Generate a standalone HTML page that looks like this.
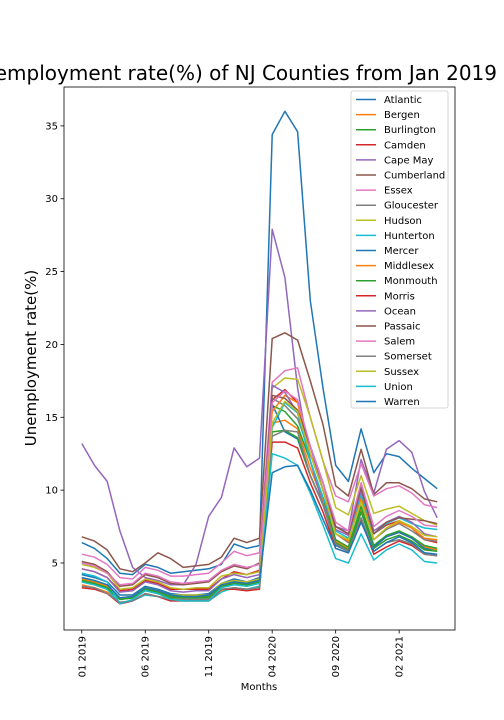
<!DOCTYPE html>
<html><head><meta charset="utf-8"><style>
body{margin:0;background:#fff;width:504px;height:720px;overflow:hidden}
svg{display:block;font-family:"DejaVu Sans","Liberation Sans",sans-serif}
</style></head><body>
<svg id="chart" width="504" height="720">
<text x="497" y="80" font-size="20" text-anchor="end">Unemployment rate(%) of NJ Counties from Jan 2019</text>
<text transform="translate(36,358) rotate(-90)" font-size="15" text-anchor="middle">Unemployment rate(%)</text>
<text x="259" y="690" font-size="10" text-anchor="middle">Months</text>
<g id="plot"></g>
</svg>
<script>
const counties = ["Atlantic","Bergen","Burlington","Camden","Cape May","Cumberland","Essex","Gloucester","Hudson","Hunterton","Mercer","Middlesex","Monmouth","Morris","Ocean","Passaic","Salem","Somerset","Sussex","Union","Warren"];
const xTickLabels = ["01 2019","06 2019","11 2019","04 2020","09 2020","02 2021"];
const xTickIndex = [0,5,10,15,20,25];
const yTicks = [5,10,15,20,25,30,35];
const atlantic   = [6.4,6.0,5.3,4.3,4.2,4.9,4.7,4.3,4.4,4.5,4.6,4.9,6.3,6.0,6.2,34.4,36.0,34.6,23.0,17.0,11.7,10.6,14.2,11.2,12.5,12.3,11.5,10.8,10.1];
const bergen     = [3.5,3.3,3.0,2.3,2.4,2.9,2.7,2.5,2.4,2.4,2.4,3.1,3.3,3.2,3.4,14.6,14.8,14.2,11.5,9.3,6.5,6.0,8.7,6.1,6.8,7.1,6.7,6.1,5.9];
const burlington = [3.7,3.5,3.2,2.5,2.6,3.1,2.9,2.6,2.6,2.6,2.6,3.3,3.6,3.5,3.7,15.8,15.4,14.4,12.0,9.5,6.6,6.1,8.9,6.2,6.9,7.2,6.8,6.2,6.0];
const camden     = [4.6,4.4,4.0,3.1,3.2,3.8,3.6,3.2,3.2,3.2,3.2,3.9,4.4,4.2,4.5,16.2,16.9,16.0,13.0,10.5,7.5,7.0,9.8,7.0,7.6,7.9,7.4,6.6,6.4];
const capeMay    = [13.2,11.7,10.6,7.2,4.7,4.0,3.8,3.5,3.5,4.9,8.2,9.5,12.9,11.6,12.2,27.9,24.6,17.0,12.0,9.0,7.5,7.2,12.1,9.8,12.8,13.4,12.6,9.9,8.1];
const cumberland = [6.8,6.5,5.9,4.6,4.4,5.0,5.7,5.3,4.7,4.8,4.9,5.4,6.7,6.4,6.7,20.4,20.8,20.3,17.5,14.5,10.3,9.6,12.8,9.7,10.5,10.5,10.1,9.4,9.2];
const essex      = [5.6,5.4,4.9,4.0,3.9,4.7,4.5,4.1,4.1,4.2,4.3,5.0,5.8,5.5,5.7,17.4,18.2,18.4,15.0,12.0,9.6,9.2,11.8,9.6,10.1,10.3,9.8,9.0,8.8];
const gloucester = [3.9,3.7,3.4,2.6,2.7,3.2,3.0,2.7,2.7,2.7,2.7,3.4,3.7,3.6,3.8,16.3,15.8,14.9,12.5,10.0,7.0,6.4,9.5,6.6,7.3,7.7,7.2,6.6,6.5];
const hudson     = [4.9,4.7,4.3,3.2,3.3,3.9,3.7,3.3,3.2,3.3,3.3,4.1,4.3,4.2,4.4,17.0,17.7,17.6,15.0,12.0,8.8,8.3,11.0,8.4,8.7,8.9,8.4,7.9,7.6];
const hunterton  = [3.7,3.5,3.2,2.2,2.4,2.8,2.7,2.4,2.4,2.4,2.4,3.0,3.3,3.2,3.4,14.3,16.0,15.3,12.0,9.5,7.2,6.7,9.8,7.0,7.7,8.1,7.7,7.4,7.3];
const mercer     = [4.2,4.0,3.7,2.8,2.8,3.4,3.2,2.9,2.8,2.8,2.9,3.6,3.9,3.7,4.0,15.9,14.0,13.5,11.0,9.0,6.2,5.8,8.5,6.1,6.8,7.1,6.7,6.0,5.8];
const middlesex  = [3.9,3.7,3.4,2.6,2.7,3.2,3.0,2.7,2.7,2.7,2.7,3.4,3.7,3.6,3.8,15.4,16.5,16.0,12.5,10.0,7.0,6.5,9.4,6.6,7.4,7.8,7.4,6.7,6.6];
const monmouth   = [3.8,3.6,3.3,2.5,2.6,3.2,3.0,2.7,2.6,2.6,2.7,3.4,3.6,3.5,3.7,14.0,14.1,13.6,11.0,9.0,6.4,5.9,8.5,6.0,6.6,6.9,6.5,5.9,5.8];
const morris     = [3.3,3.2,2.9,2.2,2.4,2.9,2.7,2.4,2.4,2.4,2.4,3.2,3.2,3.1,3.2,13.3,13.3,12.9,10.5,8.5,6.0,5.7,8.0,5.6,6.1,6.5,6.2,5.6,5.5];
const ocean      = [4.6,4.4,4.0,3.0,3.1,3.7,3.5,3.1,3.0,3.1,3.1,3.9,4.2,4.0,4.2,17.2,16.7,15.3,13.0,10.0,7.3,6.9,10.0,7.2,7.8,8.2,7.8,7.0,6.8];
const passaic    = [5.1,4.9,4.4,3.4,3.5,4.2,4.0,3.6,3.5,3.6,3.7,4.4,4.8,4.6,5.0,16.5,16.3,15.5,13.0,10.5,7.5,7.0,10.2,7.0,7.8,8.1,8.0,7.9,7.7];
const salem      = [5.0,4.8,4.3,3.5,3.6,4.3,4.1,3.7,3.6,3.7,3.8,4.5,4.9,4.7,4.9,16.0,16.8,16.2,13.0,10.5,7.8,7.2,10.5,7.5,8.2,8.6,8.2,7.6,7.5];
const somerset   = [3.4,3.3,2.9,2.3,2.4,2.9,2.7,2.5,2.5,2.5,2.5,3.2,3.3,3.2,3.3,13.7,14.1,14.0,11.0,9.0,6.3,5.8,8.1,5.8,6.4,6.6,6.3,5.6,5.5];
const sussex     = [4.0,3.8,3.5,2.6,2.7,3.3,3.1,2.8,2.8,2.8,2.8,3.6,3.8,3.7,3.9,14.6,16.1,15.4,12.5,10.0,7.0,6.6,9.2,6.6,7.4,7.9,7.5,6.9,6.8];
const union      = [4.3,4.1,3.7,2.2,2.5,3.1,2.9,2.5,2.4,2.4,2.4,3.3,3.5,3.4,3.6,12.5,12.2,11.7,9.8,7.6,5.3,5.0,7.0,5.2,5.9,6.3,5.9,5.1,5.0];
const warren     = [4.0,3.8,3.5,2.6,2.7,3.3,3.1,2.8,2.7,2.7,2.8,3.5,3.7,3.6,3.8,11.2,11.6,11.7,10.0,8.0,6.0,5.7,7.8,5.8,6.4,6.8,6.4,5.7,5.6];
const seriesList = [atlantic,bergen,burlington,camden,capeMay,cumberland,essex,gloucester,hudson,hunterton,mercer,middlesex,monmouth,morris,ocean,passaic,salem,somerset,sussex,union,warren];

const colors=["#1f77b4","#ff7f0e","#2ca02c","#d62728","#9467bd","#8c564b","#e377c2","#7f7f7f","#bcbd22","#17becf"];
const L=64,R=455,T=87,B=630;
const n=atlantic.length;
const xMin=-0.05*(n-1), xMax=(n-1)*1.05;
const yMin=0.4, yMax=37.67;
const xs=i=>L+(i-xMin)/(xMax-xMin)*(R-L);
const ys=v=>B-(v-yMin)/(yMax-yMin)*(B-T);
const NS="http://www.w3.org/2000/svg";
const g=document.getElementById('plot');
function mk(tag,attrs,parent){const e=document.createElementNS(NS,tag);for(const k in attrs)e.setAttribute(k,attrs[k]);(parent||g).appendChild(e);return e;}

seriesList.forEach((s,k)=>{
  const p=mk('polyline',{points:s.map((v,i)=>xs(i).toFixed(1)+','+ys(v).toFixed(1)).join(' '),fill:'none',stroke:colors[k%10],'stroke-width':1.5,'stroke-linejoin':'round'});
  
  
});
const frame=mk('rect',{x:L,y:T,width:R-L,height:B-T,fill:'none',stroke:'#000','stroke-width':0.8});



yTicks.forEach(v=>{
  const y=ys(v);
  const t=mk('line',{x1:L-3.5,x2:L,y1:y,y2:y,stroke:'#000','stroke-width':0.8});
  
  
  const lb=mk('text',{x:L-6,y:y+3.5,'font-size':10,'text-anchor':'end'});
  lb.textContent=v;
  
  
});
xTickIndex.forEach((idx,j)=>{
  const x=xs(idx);
  const t=mk('line',{x1:x,x2:x,y1:B,y2:B+3.5,stroke:'#000','stroke-width':0.8});
  
  
  const lb=mk('text',{transform:`translate(${x+3.5},${B+6}) rotate(-90)`,'font-size':10,'text-anchor':'end'});
  lb.textContent=xTickLabels[j];
  
  
});

const lg=mk('g',{});


mk('rect',{x:351,y:91,width:97,height:317,rx:2,fill:'#fff','fill-opacity':0.8,stroke:'#ccc','stroke-width':0.8},lg);
counties.forEach((c,k)=>{
  const y=99.5+k*15.1;
  const ln=mk('line',{x1:356,x2:376,y1:y,y2:y,stroke:colors[k%10],'stroke-width':1.5},lg);
  
  
  const tx=mk('text',{x:384,y:y+3.5,'font-size':10},lg);
  tx.textContent=c;
  
  
});
</script>
</body></html>
